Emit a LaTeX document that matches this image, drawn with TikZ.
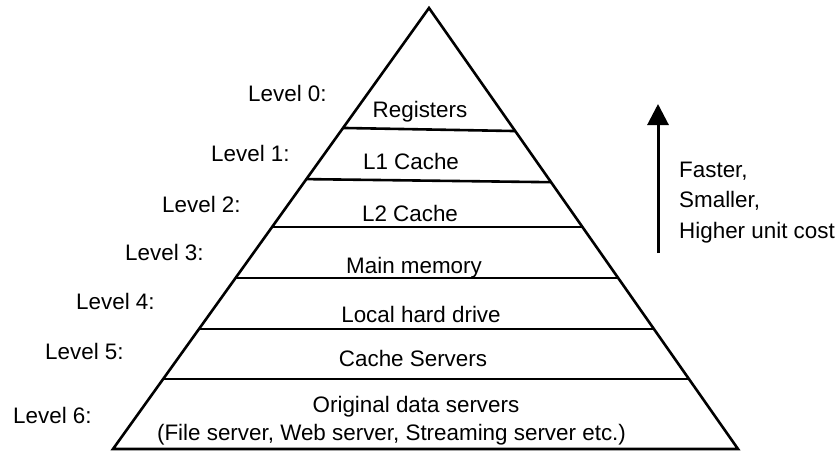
\documentclass[tikz,border=0pt]{standalone}
\usepackage{fontspec}
\setmainfont{Liberation Sans}
\usetikzlibrary{arrows.meta,calc}
\begin{document}
\begin{tikzpicture}[x=1pt,y=-1pt,
  txt/.style={inner sep=0pt, font=\fontsize{22.4}{26}\selectfont},
  lbl/.style={txt, anchor=base west},
  tier/.style={txt, anchor=base},
  edge/.style={line width=2.6pt}]
\useasboundingbox (0,0) rectangle (838,450);

% pyramid outline
\coordinate (apex) at (429,8);
\coordinate (bl) at (113,449);
\coordinate (br) at (738,449);
\draw[edge, line join=miter] (apex) -- (bl) -- (br) -- cycle;

% dividing lines between the levels
\foreach \i/\tl/\tr in {0/0.272/0.279, 1/0.388/0.395, 2/0.497/0.497,
                        3/0.612/0.612, 4/0.728/0.728, 5/0.841/0.841} {
  \coordinate (l\i) at ($(apex)!\tl!(bl)$);
  \coordinate (r\i) at ($(apex)!\tr!(br)$);
  \draw[edge] (l\i) -- (r\i);
}

% contents of each level
\node[tier] (t0) at (420,117) {Registers};
\node[tier] (t1) at (411,169) {L1 Cache};
\node[tier] (t2) at (410,221) {L2 Cache};
\node[tier] (t3) at (414,273) {Main memory};
\node[tier] (t4) at (421,322) {Local hard drive};
\node[tier] (t5) at (413,366) {Cache Servers};
\node[tier] (t6) at (416,412) {Original data servers};
\node[tier] (t6b) at (391.5,440) {(File server, Web server, Streaming server etc.)};

% level labels
\node[lbl] (v0) at (248,101) {Level 0:};
\node[lbl] (v1) at (211,161) {Level 1:};
\node[lbl] (v2) at (162,212) {Level 2:};
\node[lbl] (v3) at (125,260) {Level 3:};
\node[lbl] (v4) at (76,309) {Level 4:};
\node[lbl] (v5) at (45,359) {Level 5:};
\node[lbl] (v6) at (13,423) {Level 6:};

% trend arrow
\coordinate (abot) at (658,253);
\coordinate (atop) at (658,104);
\draw[line width=3pt, -{Triangle[length=21pt,width=21pt]}] (abot) -- (atop);
\node[lbl] (f1) at (679,177) {Faster,};
\node[lbl] (f2) at (679,207.5) {Smaller,};
\node[lbl] (f3) at (679,238) {Higher unit cost};
\end{tikzpicture}
\end{document}
